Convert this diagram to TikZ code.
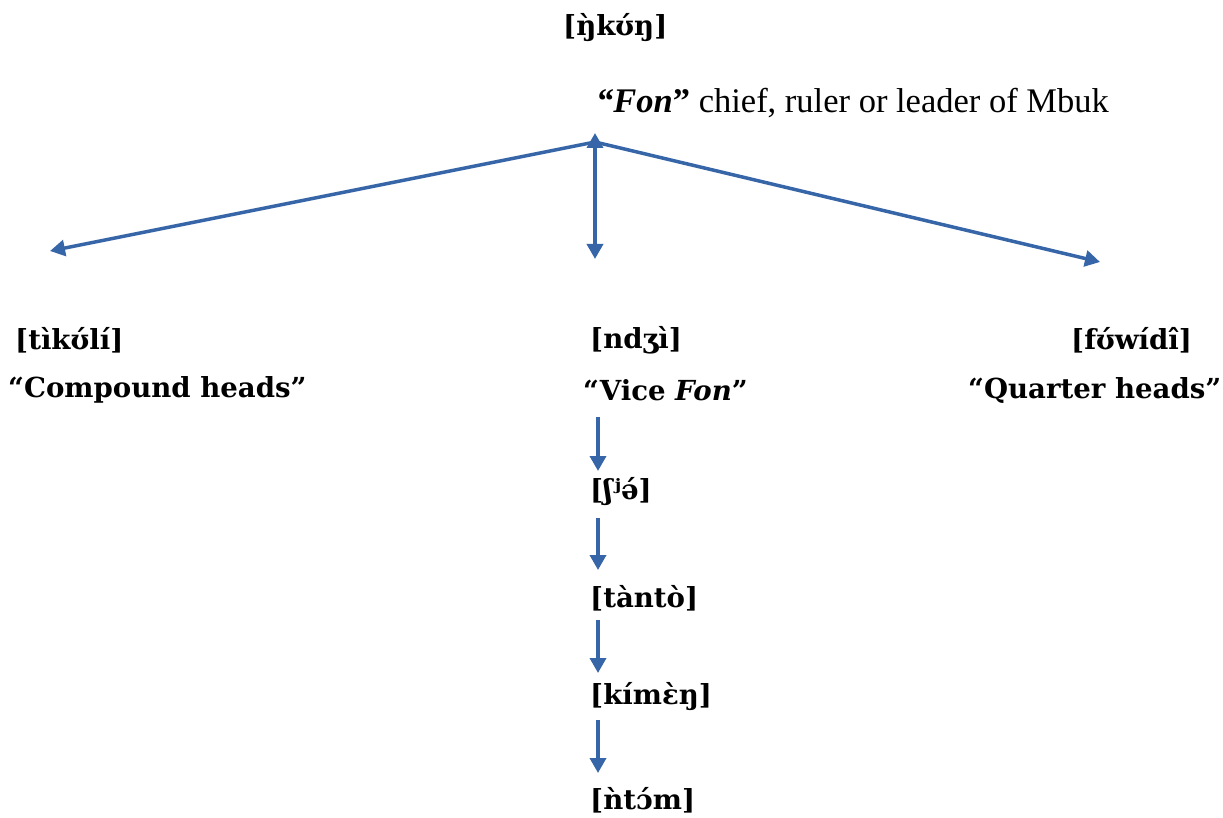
\documentclass[tikz,border=0pt]{standalone}
\usepackage{fontspec}
\setmainfont{Liberation Serif}
\newfontfamily\ipafont{DejaVu Serif}
\usetikzlibrary{arrows.meta}
\definecolor{arrowblue}{RGB}{54,101,168}
\begin{document}
\begin{tikzpicture}[x=1pt,y=-1pt,
  lbl/.style={inner sep=0pt, anchor=west, font=\ipafont\bfseries\fontsize{27.6}{32}\selectfont},
  fonline/.style={inner sep=0pt, anchor=west, font=\fontsize{34.5}{40}\selectfont},
  arr/.style={draw=arrowblue, line width=3.5pt, -{Triangle[length=15pt,width=16pt]}},
  darr/.style={draw=arrowblue, line width=3.5pt, {Triangle[length=15pt,width=16pt]}-{Triangle[length=15pt,width=16pt]}}]
\useasboundingbox (0,0) rectangle (1223,818);
% labels
\node[lbl] (top) at (563,28) {[ŋ̀kʊ́ŋ]};
\node[fonline] (fon) at (596,103) {{\bfseries\itshape “Fon}{\bfseries ”} chief, ruler or leader of Mbuk};
\node[lbl] (tik) at (15,340) {[tìkʊ́lí]};
\node[lbl] (comp) at (8,390) {“Compound heads”};
\node[lbl] (ndz) at (590,340) {[ndʒì]};
\node[lbl] (vice) at (583,390) {“Vice \textit{Fon}”};
\node[lbl] (fuw) at (1071,340) {[fʊ́wídî]};
\node[lbl] (quar) at (968,390) {“Quarter heads”};
\node[lbl] (shj) at (590,492) {[ʃʲə́]};
\node[lbl] (tan) at (590,598) {[tàntò]};
\node[lbl] (kim) at (590,697) {[kímɛ̀ŋ]};
\node[lbl] (nto) at (590,800) {[ǹtɔ́m]};
% tree connectors
\coordinate (apex) at (595,142);
\coordinate (vtop) at (595,133);
\coordinate (vbot) at (595,259);
\coordinate (lend) at (50,251);
\coordinate (rend) at (1100,262);
\draw[arr] (apex) -- (lend);
\draw[arr] (apex) -- (rend);
\draw[darr] (vtop) -- (vbot);
% chain connectors
\coordinate (a1s) at (598,417);
\coordinate (a1e) at (598,471);
\coordinate (a2s) at (598,518);
\coordinate (a2e) at (598,570);
\coordinate (a3s) at (598,620);
\coordinate (a3e) at (598,673);
\coordinate (a4s) at (598,720);
\coordinate (a4e) at (598,773);
\draw[arr] (a1s) -- (a1e);
\draw[arr] (a2s) -- (a2e);
\draw[arr] (a3s) -- (a3e);
\draw[arr] (a4s) -- (a4e);
\end{tikzpicture}
\end{document}
